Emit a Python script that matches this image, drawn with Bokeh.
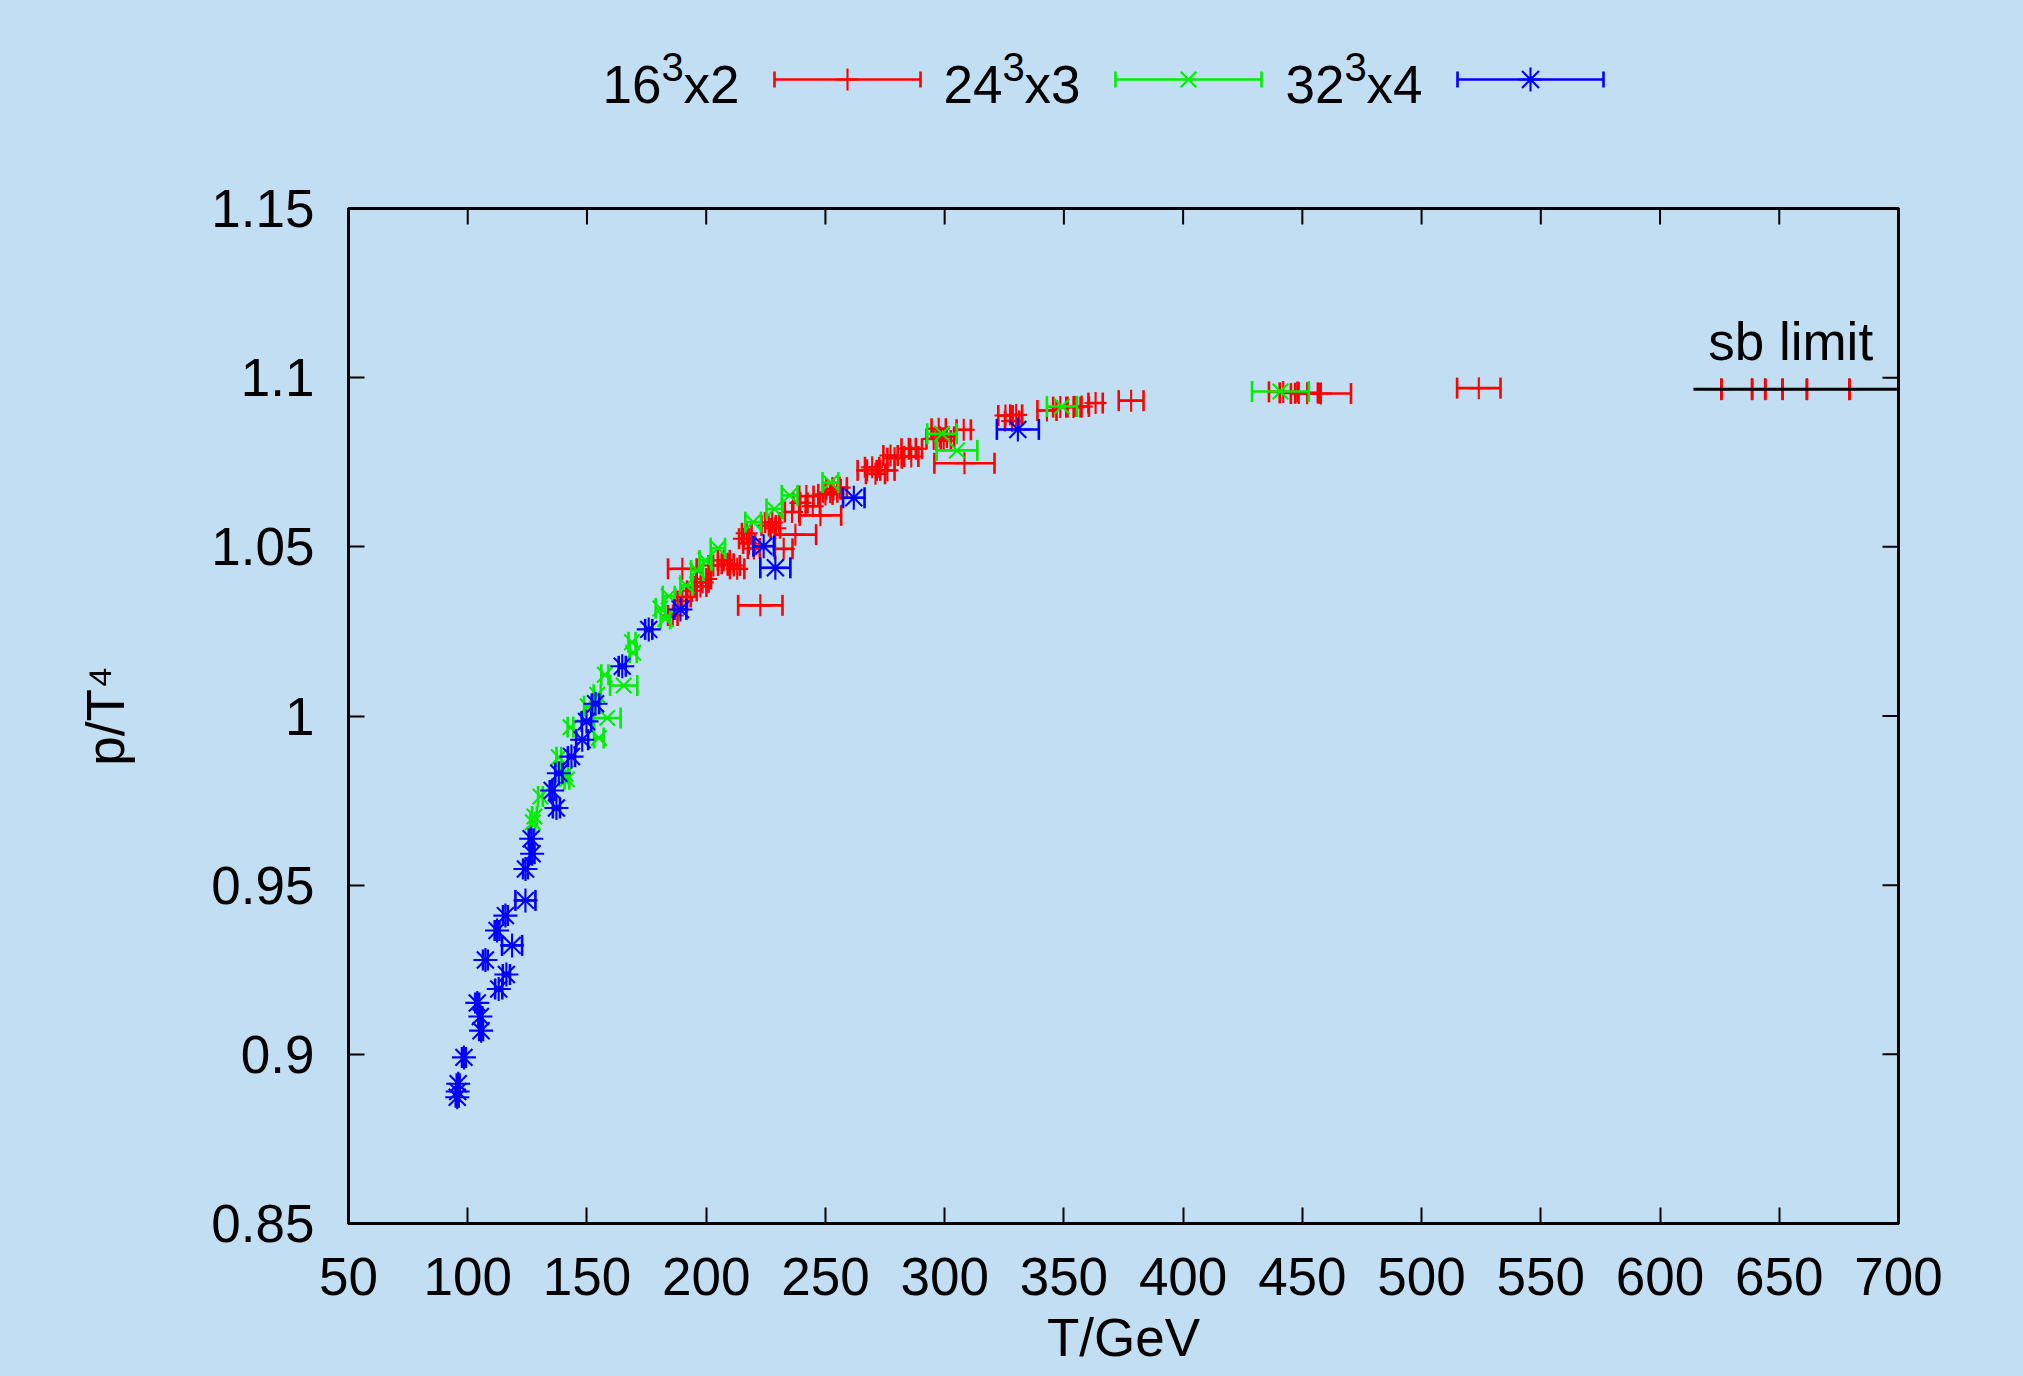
import numpy as np
from bokeh.plotting import figure
from bokeh.models import ColumnDataSource, Range1d, FixedTicker, Label
from bokeh.layouts import column
from bokeh.embed import file_html
from bokeh.resources import INLINE
from bokeh.core.properties import value

BG = "#c2def2"
FONT = "Liberation Sans"

# ---------------- data ----------------
# 16^3x2 (red)
red_T = [186.0, 190.0, 190.0, 191.5, 194.0, 197.6, 198.5, 200.0, 203.0, 207.4,
         209.0, 211.6, 213.0, 215.8, 217.0, 218.0, 220.0, 222.7, 226.2, 227.7,
         229.0, 232.5, 236.0, 237.4, 239.5, 242.0, 244.7, 247.9, 250.0, 252.0,
         253.4, 256.0, 267.5, 269.6, 271.0, 276.0, 277.3, 279.0, 284.9, 286.0,
         288.0, 295.4, 297.5, 299.6, 301.0, 308.0, 308.3, 325.5, 328.3, 330.0,
         342.9, 348.5, 354.0, 357.5, 363.3, 378.2, 442.0, 448.5, 452.0, 457.8,
         524.0, 625.7, 638.6, 644.1, 651.4, 661.6, 679.4]
red_p = [1.0297, 1.0435, 1.0340, 1.0352, 1.0370, 1.0383, 1.0395, 1.0405, 1.0445, 1.0460,
         1.0450, 1.0445, 1.0435, 1.0524, 1.0540, 1.0510, 1.0495, 1.0327, 1.0563, 1.0572,
         1.0555, 1.0494, 1.0603, 1.0536, 1.0630, 1.0650, 1.0620, 1.0593, 1.0655, 1.0661,
         1.0670, 1.0675, 1.0726, 1.0735, 1.0716, 1.0726, 1.0770, 1.0762, 1.0790, 1.0767,
         1.0790, 1.0819, 1.0849, 1.0814, 1.0825, 1.0846, 1.0747, 1.0888, 1.0872, 1.0890,
         1.0903, 1.0913, 1.0913, 1.0915, 1.0925, 1.0932, 1.0958, 1.0955, 1.0954, 1.0953,
         1.0969, 1.0966, 1.0966, 1.0966, 1.0966, 1.0966, 1.0966]
red_dT = [2.0, 6.0, 2.0, 2.0, 2.0, 2.5, 2.5, 2.0, 2.0, 2.5,
          2.5, 2.5, 3.0, 2.0, 2.0, 2.5, 2.5, 9.3, 3.0, 3.0,
          2.0, 3.7, 3.0, 8.7, 3.0, 3.0, 3.0, 8.7, 3.0, 3.0,
          3.0, 3.0, 4.0, 3.0, 4.0, 3.0, 3.0, 3.0, 3.0, 3.0,
          2.5, 3.0, 3.0, 3.0, 3.0, 3.0, 12.6, 3.0, 3.0, 2.5,
          4.0, 3.0, 3.0, 3.0, 3.0, 5.2, 6.0, 8.0, 5.0, 12.6,
          9.1, 0.0, 0.0, 0.0, 0.0, 0.0, 0.0]

# 24^3x3 (green)
green_T = [127.3, 128.0, 130.5, 138.2, 141.0, 141.6, 143.1, 150.3, 154.3, 155.0,
           157.5, 158.5, 165.4, 168.9, 169.4, 180.8, 182.9, 184.3, 191.7, 196.2,
           199.7, 204.9, 219.7, 228.6, 235.0, 252.1, 298.9, 305.2, 349.2, 440.8]
green_p = [0.9686, 0.9703, 0.9762, 0.9878, 0.9829, 0.9813, 0.9967, 1.0029, 1.0063, 0.9935,
           1.0122, 0.9994, 1.0090, 1.0218, 1.0187, 1.0318, 1.0287, 1.0354, 1.0386, 1.0430,
           1.0460, 1.0496, 1.0573, 1.0612, 1.0652, 1.0690, 1.0834, 1.0785, 1.0915, 1.0959]
green_dT = [1.0, 1.0, 1.0, 1.0, 1.0, 1.0, 1.2, 1.5, 1.5, 2.0,
            1.5, 5.6, 5.7, 1.5, 1.5, 2.0, 2.0, 2.5, 2.5, 2.5,
            2.5, 3.0, 3.3, 3.3, 3.3, 3.3, 6.2, 8.5, 6.3, 11.9]

# 32^3x4 (blue)
blue_T = [95.6, 95.8, 96.0, 98.4, 104.0, 105.3, 105.6, 107.4, 112.3, 113.0,
          115.8, 116.2, 118.6, 124.2, 124.2, 126.6, 127.0, 135.4, 137.2, 138.2,
          143.5, 148.0, 149.8, 153.6, 164.8, 175.9, 189.2, 224.1, 229.0, 261.9, 330.7]
blue_p = [0.8873, 0.8890, 0.8913, 0.8991, 0.9152, 0.9112, 0.9070, 0.9279, 0.9366, 0.9193,
          0.9410, 0.9236, 0.9322, 0.9455, 0.9548, 0.9637, 0.9593, 0.9780, 0.9728, 0.9831,
          0.9880, 0.9930, 0.9984, 1.0036, 1.0147, 1.0256, 1.0315, 1.0502, 1.0438, 1.0645, 1.0847]
blue_dT = [0.6, 0.6, 0.6, 0.8, 0.8, 0.8, 0.8, 1.0, 1.0, 1.5,
           1.0, 1.5, 4.2, 4.2, 1.0, 1.0, 1.0, 1.0, 1.5, 1.5,
           1.5, 2.5, 2.0, 1.5, 1.5, 1.5, 2.5, 4.3, 6.3, 4.5, 8.8]

# Stefan-Boltzmann limit line
sb_T = [614.0, 700.0]
sb_p = 1.0966

# axes
x_min, x_max = 50, 700
y_min, y_max = 0.85, 1.15
x_ticks = [50, 100, 150, 200, 250, 300, 350, 400, 450, 500, 550, 600, 650, 700]
y_ticks = [0.85, 0.9, 0.95, 1.0, 1.05, 1.1, 1.15]
y_tick_labels = ["0.85", "0.9", "0.95", "1", "1.05", "1.1", "1.15"]

# legend text
leg_base = ["16", "24", "32"]
leg_sup = ["3", "3", "3"]
leg_suffix = ["x2", "x3", "x4"]
colors = ["#ff0000", "#00ee00", "#0000ff"]
markers = ["cross", "x", "asterisk"]
marker_sizes = [22, 22, 24]

series = [(red_T, red_p, red_dT), (green_T, green_p, green_dT), (blue_T, blue_p, blue_dT)]

# ---------------- layout constants (screen px) ----------------
W = 2023
H = 1376
LEG_H = 150
FL, FR, FT, FB = 348, 1898, 208, 1223   # frame edges
MAIN_H = H - LEG_H
CAP = 21     # error-bar cap length
LW_BAR = 2.6
LW_MK = 2.1

p = figure(width=W, height=MAIN_H, x_range=Range1d(x_min, x_max), y_range=Range1d(y_min, y_max),
           output_backend="svg", toolbar_location=None,
           background_fill_color=None, border_fill_color=BG,
           min_border_left=FL, min_border_right=W - FR,
           min_border_top=FT - LEG_H, min_border_bottom=H - FB,
           outline_line_color="black", outline_line_width=3)
p.grid.visible = False


def style_axis(ax, ticks):
    ax.ticker = FixedTicker(ticks=ticks)
    ax.major_tick_in = 16
    ax.major_tick_out = 0
    ax.minor_tick_in = 0
    ax.minor_tick_out = 0
    ax.axis_line_width = 3
    ax.axis_line_color = "black"
    ax.major_tick_line_width = 2
    ax.major_tick_line_color = "black"
    ax.major_label_text_font = FONT
    ax.major_label_text_font_size = "53px"
    ax.major_label_text_color = "black"
    ax.axis_label_text_font = FONT
    ax.axis_label_text_font_size = "53px"
    ax.axis_label_text_font_style = "normal"
    ax.axis_label_text_color = "black"


xa = p.xaxis[0]
style_axis(xa, x_ticks)
xa.major_label_standoff = 34
xa.axis_label = "T/GeV"
xa.axis_label_standoff = 10

ya = p.yaxis[0]
style_axis(ya, y_ticks)
ya.major_label_overrides = {t: s for t, s in zip(y_ticks, y_tick_labels)}
ya.major_label_standoff = 34
ya.axis_label = "p/T⁴"
ya.axis_label_standoff = 73

# mirror ticks on top and right edges (half of each dash is clipped by the frame)
p.scatter(x=x_ticks, y=[y_max] * len(x_ticks), marker="dash", angle=np.pi / 2, size=32,
          line_color="black", line_width=2)
p.scatter(x=[x_max] * len(y_ticks), y=y_ticks, marker="dash", size=32,
          line_color="black", line_width=2)

for (T, pv, dT), c, m, ms in zip(series, colors, markers, marker_sizes):
    T = np.array(T)
    dT = np.array(dT)
    src = ColumnDataSource(dict(T=T, p=pv, lo=T - dT, hi=T + dT))
    p.segment(x0="lo", y0="p", x1="hi", y1="p", source=src, line_color=c, line_width=LW_BAR)
    p.scatter(x="lo", y="p", source=src, marker="dash", angle=np.pi / 2, size=CAP,
              line_color=c, line_width=LW_BAR)
    p.scatter(x="hi", y="p", source=src, marker="dash", angle=np.pi / 2, size=CAP,
              line_color=c, line_width=LW_BAR)
    p.scatter(x="T", y="p", source=src, marker=m, size=ms, line_color=c, line_width=LW_MK,
              fill_color=None)

p.line(x=sb_T, y=[sb_p, sb_p], line_color="black", line_width=3)
p.add_layout(Label(x=620.2, y=1.1106, text="sb limit", text_font=FONT, text_font_size="53px",
                   text_baseline="alphabetic", text_align="left", text_color="black"))

# ---------------- legend strip (frame aligned with main frame, screen-px coords) ----------------
lg = figure(width=W, height=LEG_H, x_range=Range1d(FL, FR), y_range=Range1d(LEG_H, 0),
            output_backend="svg", toolbar_location=None,
            background_fill_color=None, border_fill_color=BG,
            x_axis_location=None, y_axis_location=None,
            min_border_left=FL, min_border_right=W - FR, min_border_top=0, min_border_bottom=0,
            outline_line_color=None)
lg.grid.visible = False

text_right = [739, 1080, 1422]
base_y = 84
sup_y = 66
samp_y = 79
for i in range(3):
    r = text_right[i]
    x0 = r - 137
    lg.text(x=[x0], y=[base_y], text=[leg_base[i]], text_font=value(FONT), text_font_size="53px",
            text_baseline="alphabetic", text_align="left", text_color="black")
    lg.text(x=[x0 + 59], y=[sup_y], text=[leg_sup[i]], text_font=value(FONT), text_font_size="40px",
            text_baseline="alphabetic", text_align="left", text_color="black")
    lg.text(x=[x0 + 81], y=[base_y], text=[leg_suffix[i]], text_font=value(FONT), text_font_size="53px",
            text_baseline="alphabetic", text_align="left", text_color="black")
    s0, s1 = r + 35, r + 181
    lg.segment(x0=[s0], y0=[samp_y], x1=[s1], y1=[samp_y], line_color=colors[i], line_width=LW_BAR)
    lg.segment(x0=[s0, s1], y0=[samp_y - 8, samp_y - 8], x1=[s0, s1], y1=[samp_y + 8, samp_y + 8],
               line_color=colors[i], line_width=LW_BAR)
    lg.scatter(x=[(s0 + s1) / 2], y=[samp_y], marker=markers[i], size=marker_sizes[i],
               line_color=colors[i], line_width=LW_MK, fill_color=None)

layout = column(lg, p, spacing=0, styles={"background-color": BG})
open("out.html", "w").write(file_html(layout, INLINE))
